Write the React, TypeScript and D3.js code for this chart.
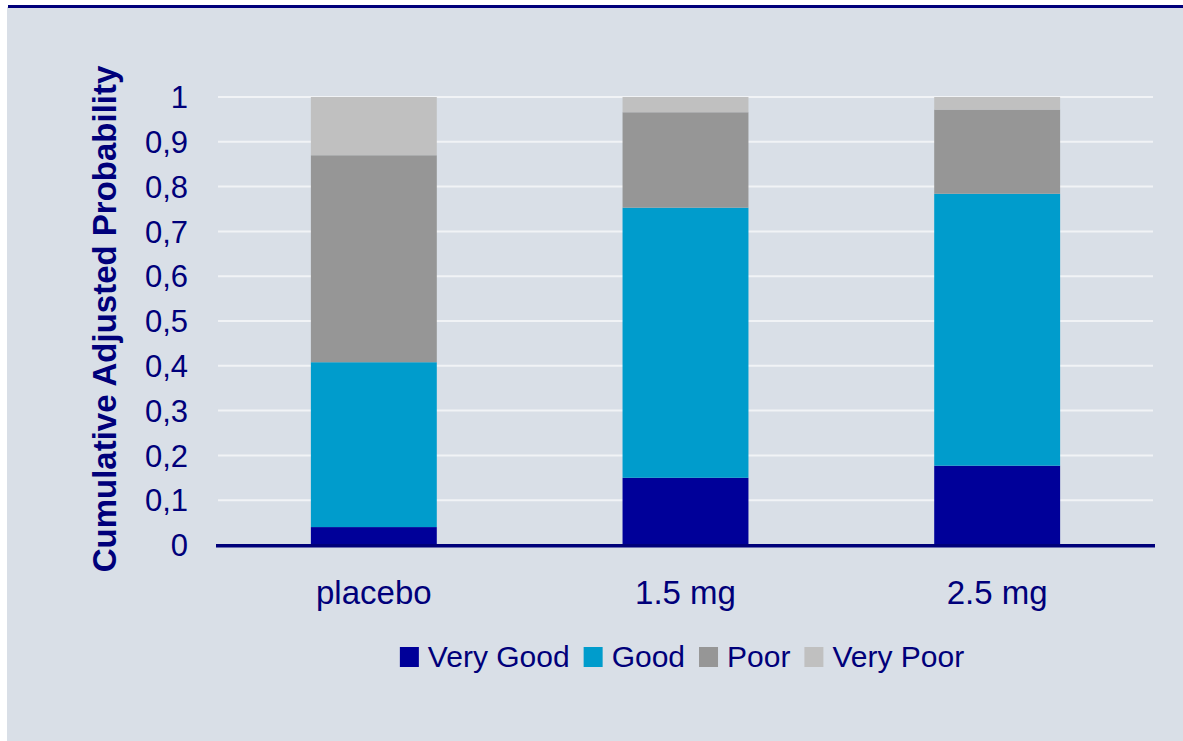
import React, { useEffect, useRef } from "react";
import * as d3 from "d3";

const categories = ["placebo", "1.5 mg", "2.5 mg"];
const seriesNames = ["Very Good", "Good", "Poor", "Very Poor"];
const veryGood = [0.04, 0.15, 0.177];
const good = [0.368, 0.603, 0.607];
const poor = [0.462, 0.213, 0.188];
const veryPoor = [0.13, 0.034, 0.028];
const yTicks = [0, 0.1, 0.2, 0.3, 0.4, 0.5, 0.6, 0.7, 0.8, 0.9, 1];
const colors = ["#000099", "#009CCC", "#969696", "#C0C0C0"];

const W = 1183;
const H = 741;
const NAVY = "#00007A";
const FONT = "'Liberation Sans', Arial, sans-serif";

export default function App() {
  const ref = useRef<SVGSVGElement>(null);
  useEffect(() => {
    const svg = d3.select(ref.current);
    svg.selectAll("*").remove();

    svg.append("rect").attr("x", 7).attr("y", 7).attr("width", W - 7).attr("height", H - 7).attr("fill", "#D9DFE7");
    svg.append("line").attr("x1", 8).attr("x2", W).attr("y1", 6.5).attr("y2", 6.5).attr("stroke", NAVY).attr("stroke-width", 3);

    const x = d3.scaleBand<string>().domain(categories).range([218, 1153]).padding(0);
    const y = d3.scaleLinear().domain([0, 1]).range([545, 97]);
    const barW = x.bandwidth() * 0.404;

    svg.append("g").selectAll("line").data(yTicks.filter((t) => t > 0)).join("line")
      .attr("x1", 218).attr("x2", 1153)
      .attr("y1", (d) => y(d)).attr("y2", (d) => y(d))
      .attr("stroke", "#F1F3F6").attr("stroke-width", 2);

    svg.append("g").selectAll("text").data(yTicks).join("text")
      .attr("x", 188).attr("y", (d) => y(d)).attr("dy", "0.36em")
      .attr("text-anchor", "end").attr("font-family", FONT).attr("font-size", 31).attr("fill", NAVY)
      .text((d) => d3.format(".1~f")(d).replace(".", ","));

    const series = [veryGood, good, poor, veryPoor];
    const rows = categories.map((c, i) => {
      const o: any = { cat: c };
      seriesNames.forEach((s, k) => (o[s] = series[k][i]));
      return o;
    });
    const stacked = d3.stack().keys(seriesNames)(rows);
    stacked.forEach((layer, k) => {
      svg.append("g").attr("fill", colors[k]).selectAll("rect").data(layer).join("rect")
        .attr("x", (d: any) => (x(d.data.cat) as number) + (x.bandwidth() - barW) / 2)
        .attr("width", barW)
        .attr("y", (d: any) => y(Math.min(1, d[1])))
        .attr("height", (d: any) => y(d[0]) - y(Math.min(1, d[1])));
    });

    svg.append("line").attr("x1", 216).attr("x2", 1155).attr("y1", 545.7).attr("y2", 545.7)
      .attr("stroke", NAVY).attr("stroke-width", 3.5);

    svg.append("g").selectAll("text").data(categories).join("text")
      .attr("x", (d) => (x(d) as number) + x.bandwidth() / 2).attr("y", 604)
      .attr("text-anchor", "middle").attr("font-family", FONT).attr("font-size", 33).attr("fill", NAVY)
      .text((d) => d);

    svg.append("text")
      .attr("transform", `translate(116,319) rotate(-90)`)
      .attr("text-anchor", "middle").attr("font-family", FONT).attr("font-size", 33).attr("font-weight", "bold")
      .attr("fill", NAVY).text("Cumulative Adjusted Probability");

    const lg = svg.append("g");
    const sq = 19, gapT = 9, gapN = 14;
    let cx = 0;
    seriesNames.forEach((s, k) => {
      const t = lg.append("text").attr("font-family", FONT).attr("font-size", 30).attr("fill", NAVY)
        .attr("y", 667).text(s);
      const w = (t.node() as SVGTextElement).getComputedTextLength();
      lg.append("rect").attr("x", cx).attr("y", 647).attr("width", sq).attr("height", 20).attr("fill", colors[k]);
      t.attr("x", cx + sq + gapT);
      cx += sq + gapT + w + gapN;
    });
    const total = cx - gapN;
    lg.attr("transform", `translate(${682 - total / 2},0)`);
  }, []);

  return (
    <svg ref={ref} width={W} height={H} style={{ position: "absolute", left: 0, top: 0, background: "#fff" }} />
  );
}
